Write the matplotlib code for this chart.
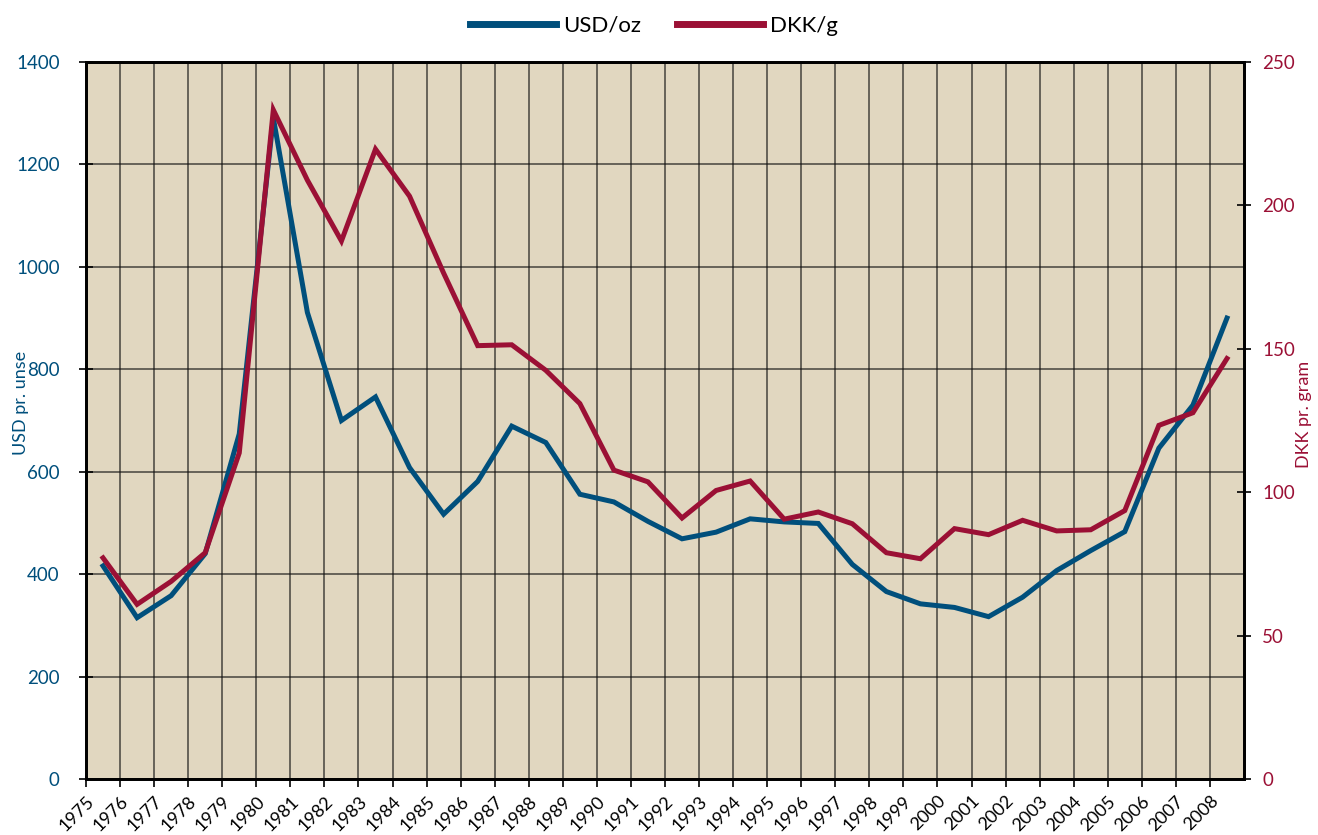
import numpy as np
import matplotlib
matplotlib.use("Agg")
import matplotlib.pyplot as plt
from matplotlib import transforms

# gold price, yearly averages
years = list(range(1975, 2009))
usd_oz = [416, 315, 358, 440, 674, 1291, 911, 700, 746, 608, 517, 581,
          689, 657, 556, 541, 503, 469, 482, 508, 502, 499, 419, 366,
          342, 335, 317, 355, 407, 446, 483, 646, 730, 900]
dkk_g = [77.1, 60.9, 68.9, 78.9, 113.7, 233.3, 208.8, 187.6, 219.6, 203.2,
         176.4, 151.1, 151.4, 142.5, 130.9, 107.7, 103.6, 91.0, 100.6, 103.9,
         90.6, 93.1, 89.0, 78.9, 76.8, 87.3, 85.2, 90.2, 86.5, 86.9,
         93.6, 123.3, 127.7, 146.6]

left_ticks = [0, 200, 400, 600, 800, 1000, 1200, 1400]
right_ticks = [0, 50, 100, 150, 200, 250]

blue = "#004f7c"
red = "#9b1035"
bg = "#e1d7c0"

plt.rcParams['font.family'] = ['Lato', 'DejaVu Sans']

fig = plt.figure(figsize=(13.18, 8.35), dpi=100)
ax = fig.add_axes([86 / 1318, 1 - 779 / 835, (1244 - 86) / 1318, (779 - 62) / 835])
ax.set_facecolor(bg)
ax2 = ax.twinx()

x = np.array(years) + 0.5  # points sit in the middle of each year
l1, = ax.plot(x, usd_oz, color=blue, lw=3.6, solid_joinstyle='miter', zorder=3)
l2, = ax2.plot(x, dkk_g, color=red, lw=3.6, solid_joinstyle='miter', zorder=3)

ax.set_xlim(1975, 2009)
ax.set_ylim(0, 1400)
ax2.set_ylim(0, 250)

ax.set_xticks(range(1975, 2009))
ax.set_xticklabels([str(y) for y in years], rotation=45, ha='right', va='top',
                   rotation_mode='anchor', fontsize=13)
offset = transforms.ScaledTranslation(12 / 100, 0, fig.dpi_scale_trans)
for lab in ax.get_xticklabels():
    lab.set_transform(lab.get_transform() + offset)
ax.set_yticks(left_ticks)
ax2.set_yticks(right_ticks)

ax.tick_params(axis='x', direction='out', length=6, width=1.2, pad=4)
ax.tick_params(axis='y', direction='inout', length=10, width=1.2, labelsize=13.5,
               labelcolor=blue, pad=14)
ax2.tick_params(axis='y', direction='inout', length=10, width=1.2, labelsize=13.5,
                labelcolor=red, pad=8)

ax.grid(True, color='#111111', lw=1.1, alpha=0.75)
ax.set_axisbelow(True)

for sp in ax.spines.values():
    sp.set_linewidth(2)
for sp in ax2.spines.values():
    sp.set_linewidth(2)

ax.set_ylabel("USD pr. unse", color=blue, fontsize=13)
ax2.set_ylabel("DKK pr. gram", color=red, fontsize=13)
ax.yaxis.set_label_coords(-57 / 1158, 0.525)
ax2.yaxis.set_label_coords(1 + 52 / 1158, 0.508)

fig.legend([l1, l2], ["USD/oz", "DKK/g"], loc='upper center',
           bbox_to_anchor=(0.496, 1.005), ncol=2, frameon=False, fontsize=16,
           handlelength=3.9, handletextpad=0.3, columnspacing=1.6)
for line in fig.legends[0].get_lines():
    line.set_linewidth(5)

fig.savefig("out.png", dpi=100)
